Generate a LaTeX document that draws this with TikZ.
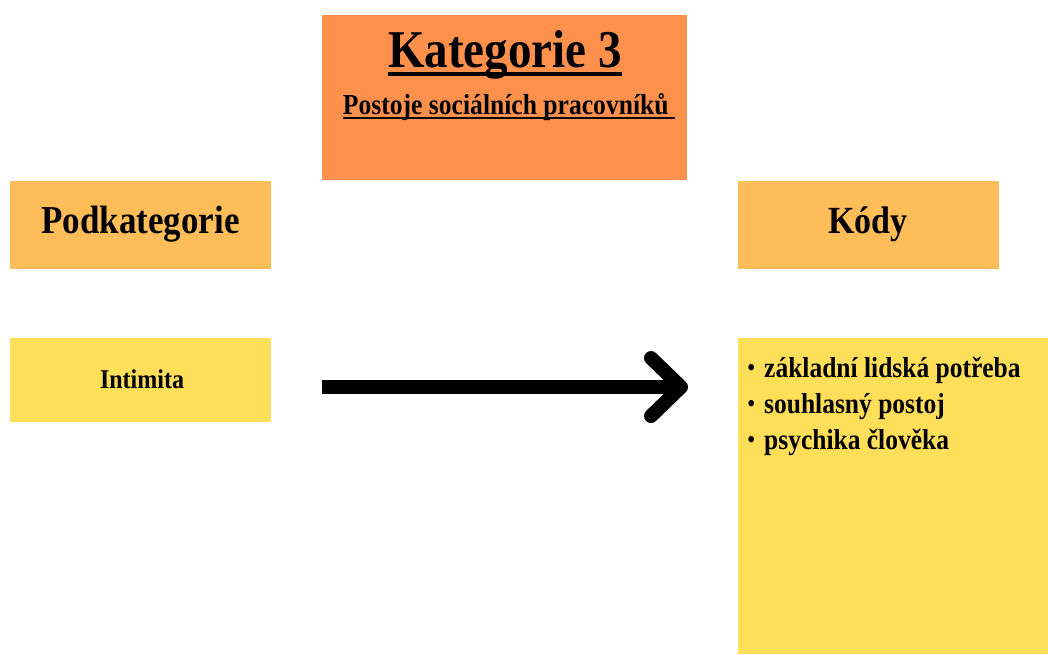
\documentclass[tikz,border=0pt]{standalone}
\usepackage{fontspec}
\setmainfont{Liberation Serif}
\usepackage{graphicx}
\usetikzlibrary{arrows.meta,positioning}
\definecolor{katorange}{HTML}{FF914D}
\definecolor{headorange}{HTML}{FFBD59}
\definecolor{codeyellow}{HTML}{FFDE59}
\newcommand{\tall}[1]{\scalebox{1}[1.13]{#1}}
\newcommand{\katline}[1]{\setbox0=\hbox{#1}\rlap{\rule[-.165em]{\wd0}{.065em}}\box0}
\newcommand{\kodbullet}{\makebox[18pt][l]{\hspace{1.5pt}\raisebox{1pt}{\fontsize{21}{21}\selectfont\textbullet}}}
\tikzset{
  box/.style n args={3}{anchor=north west, inner sep=0pt, fill=#1,
    minimum width=#2pt, minimum height=#3pt},
  label text/.style={anchor=base, font=\bfseries},
  bigarrow/.style={line width=14pt, -{Straight Barb[length=30pt,width=58pt,round]}}
}

\begin{document}
\begin{tikzpicture}[x=1pt,y=-1pt]
        \useasboundingbox (0,0) rectangle (1048,654);

        % Boxes
        \node[box={katorange}{365}{165}] (kat) at (322,15) {};
        \node[box={headorange}{261}{88}] (podkat) at (10,181) {};
        \node[box={headorange}{261}{88}] (kody) at (738,181) {};
        \node[box={codeyellow}{261}{84}] (intimita) at (10,338) {};
        \node[box={codeyellow}{310}{316}] (codes) at (738,338) {};

        % Title
        \node[label text] (kat title) at (505,67)
          {\tall{\fontsize{47}{50}\selectfont\katline{Kategorie 3}}};
        \node[label text] (kat sub) at (509,114)
          {\tall{\fontsize{25.6}{28}\selectfont\katline{Postoje sociálních pracovníků\ }}};

        % Headings
        \node[label text] (podkat text) at (140.5,233)
          {\tall{\fontsize{35}{38}\selectfont Podkategorie}};
        \node[label text] (kody text) at (868,233)
          {\tall{\fontsize{34}{38}\selectfont Kódy}};
        \node[label text] (intimita text) at (142,388)
          {\tall{\fontsize{24}{28}\selectfont Intimita}};

        % Codes
        \node[anchor=base west, inner sep=0pt, font=\bfseries] (codes list) at (746,377)
          {\tall{\fontsize{25.5}{31.9}\selectfont
           \begin{tabular}[t]{@{}l@{}}
             \kodbullet základní lidská potřeba\\
             \kodbullet souhlasný postoj\\
             \kodbullet psychika člověka
           \end{tabular}}};

        % Arrow
        \coordinate (arrow start) at (322,387);
        \coordinate (arrow end) at (688,387);
        \draw[bigarrow] (arrow start) -- (arrow end);
    \end{tikzpicture}
\end{document}
